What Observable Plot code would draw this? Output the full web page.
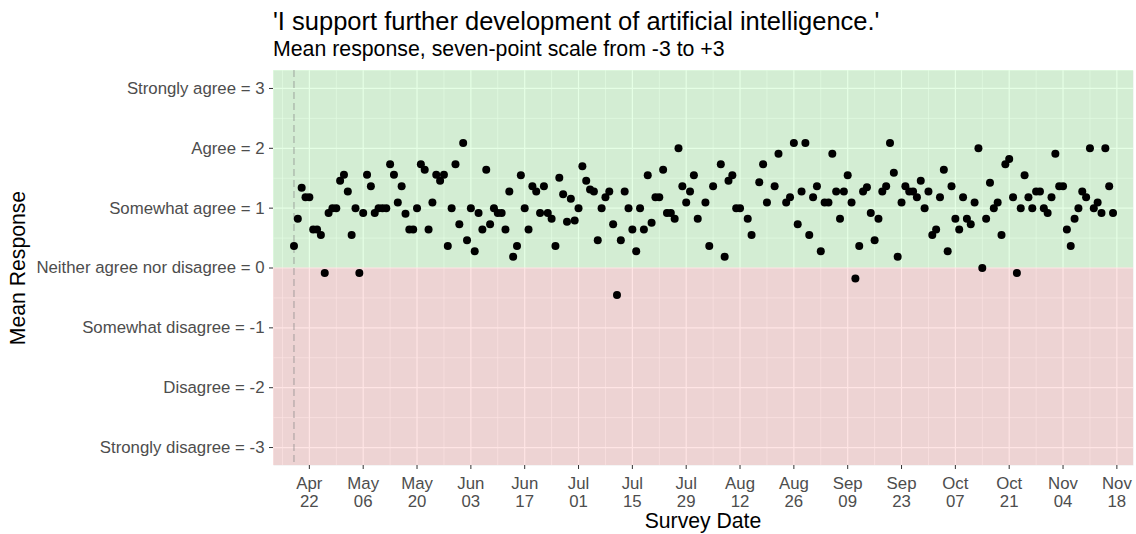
<!DOCTYPE html>
<html><head><meta charset="utf-8">
<script src="https://cdn.jsdelivr.net/npm/d3@7"></script>
<script src="https://cdn.jsdelivr.net/npm/@observablehq/plot@0.6"></script>
<style>
body{margin:0;background:#fff;font-family:"Liberation Sans",Arial,sans-serif;}
#wrap{position:relative;width:1136px;height:534px;overflow:hidden;}
.t{position:absolute;white-space:nowrap;line-height:1;color:#000;}
#title{left:273px;top:9px;font-size:25.5px;}
#subtitle{left:273px;top:39px;font-size:21.3px;}
#xlab{left:703px;top:510px;font-size:21.2px;transform:translateX(-50%);}
#ylab{left:18px;top:268px;font-size:21.2px;transform:translate(-50%,-50%) rotate(-90deg);}
#chart{position:absolute;left:0;top:0;}
#chart svg g[aria-label="y-axis tick label"] text, #chart svg g[aria-label="x-axis tick label"] text{fill:#4D4D4D;}
</style></head>
<body>
<div id="wrap">
  <div id="chart"></div>
  <div class="t" id="title">'I support further development of artificial intelligence.'</div>
  <div class="t" id="subtitle">Mean response, seven-point scale from -3 to +3</div>
  <div class="t" id="xlab">Survey Date</div>
  <div class="t" id="ylab">Mean Response</div>
</div>
<script>
// Daily mean responses starting at surveyStart; null = no survey that day
const surveyStart = "2024-04-18";
const dailyMeans = [
  0.367, 0.823, 1.34, 1.183, 1.183, 0.645, 0.645, 0.55, -0.083, 0.917,
  1.0, 1.0, 1.457, 1.557, 1.278, 0.55, 1.0, -0.083, 0.917, 1.557,
  1.367, 0.917, 1.0, 1.0, 1.0, 1.733, 1.557, 1.095, 1.367, 0.907,
  0.645, 0.645, 1.0, 1.733, 1.64, 0.645, 1.095, 1.557, 1.457, 1.557,
  0.367, 1.0, 1.733, 0.733, 2.09, 0.462, 1.0, 0.278, 0.917, 0.645,
  1.64, 0.733, 1.0, 0.917, 0.917, 0.645, 1.278, 0.19, 0.367, 1.55,
  1.0, 0.645, 1.367, 1.278, 0.917, 1.367, 0.917, 0.823, 0.367, 1.507,
  1.233, 0.773, 1.157, 0.795, 1.0, 1.70, 1.457, 1.312, 1.278, 0.462,
  1.0, 1.183, 1.278, 0.733, -0.45, 0.462, 1.278, 1.0, 0.645, 0.278,
  1.0, 0.645, 1.55, 0.757, 1.183, 1.183, 1.64, 0.917, 0.917, 0.823,
  2.0, 1.367, 1.095, 1.278, 1.55, 0.823, null, 1.095, 0.367, 1.367,
  null, 1.733, 0.19, 1.457, 1.55, 1.0, 1.0, null, 0.823, 0.55,
  null, 1.433, 1.733, 1.095, null, 1.367, 1.91, null, 1.095, 1.183,
  2.09, 0.733, 1.278, 2.09, 0.55, 1.183, 1.367, 0.278, 1.095, 1.095,
  1.91, 1.278, 0.823, 1.278, 1.55, 1.095, -0.177, 0.367, 1.278, 1.35,
  0.917, 0.462, 0.823, 1.278, 1.367, 2.09, 1.59, 0.19, 1.095, 1.367,
  1.278, 1.278, 1.183, 1.457, 1.0, 1.278, 0.55, 0.645, 1.183, 1.64,
  0.278, 1.367, 0.823, 0.645, 1.183, 0.823, 0.733, 1.095, 2.0, 0.0,
  0.823, 1.423, 1.0, 1.095, 0.55, 1.733, 1.823, 1.183, -0.083, 1.0,
  1.55, 1.183, 1.0, 1.278, 1.278, 1.0, 0.917, 1.183, 1.91, 1.367,
  1.367, 0.645, 0.367, 0.823, 1.0, 1.278, 1.183, 2.0, 1.0, 1.095,
  0.917, 2.0, 1.367, 0.917
];
const scaleValues = [-3, -2, -1, 0, 1, 2, 3];
const scaleLabels = [
  "Strongly disagree = -3", "Disagree = -2", "Somewhat disagree = -1",
  "Neither agree nor disagree = 0", "Somewhat agree = 1", "Agree = 2", "Strongly agree = 3"
];
const firstDateTick = "2024-04-22";
const dateTickCount = 16;

const DAY = 864e5;
const start = new Date(surveyStart + "T00:00:00Z");
const data = dailyMeans.map((v, i) => ({date: new Date(+start + i * DAY), value: v}))
  .filter(d => d.value !== null);
const lastDate = data[data.length - 1].date;
const pad = (lastDate - start) * 0.025;
const xDomain = [new Date(+start - pad), new Date(+lastDate + pad)];
const yDomain = [-3.3, 3.3];

const t0 = new Date(firstDateTick + "T00:00:00Z");
const majorX = d3.range(dateTickCount).map(k => new Date(+t0 + k * 14 * DAY));
const minorX = d3.range(-1, dateTickCount).map(k => new Date(+t0 + (k * 14 + 7) * DAY))
  .filter(d => d >= xDomain[0] && d <= xDomain[1]);
const minorY = d3.range(-2.5, 3, 1);

const bands = [
  {lo: 0, hi: yDomain[1], fill: "#00FF00"},
  {lo: yDomain[0], hi: 0, fill: "#FF0000"}
];

const chart = Plot.plot({
  width: 1136, height: 534,
  marginLeft: 273, marginRight: 3, marginTop: 70, marginBottom: 69,
  style: {fontFamily: "'Liberation Sans', Arial, sans-serif", fontSize: "17px", background: "white"},
  x: {type: "utc", domain: xDomain},
  y: {domain: yDomain},
  marks: [
    Plot.frame({fill: "#EBEBEB", stroke: null}),
    Plot.gridY(minorY, {stroke: "white", strokeOpacity: 1, strokeWidth: 0.6}),
    Plot.gridX(minorX, {stroke: "white", strokeOpacity: 1, strokeWidth: 0.6}),
    Plot.gridY(scaleValues, {stroke: "white", strokeOpacity: 1, strokeWidth: 1.2}),
    Plot.gridX(majorX, {stroke: "white", strokeOpacity: 1, strokeWidth: 1.2}),
    Plot.rect(bands, {x1: () => xDomain[0], x2: () => xDomain[1], y1: "lo", y2: "hi", fill: "fill", fillOpacity: 0.1}),
    Plot.ruleX([start], {stroke: "#7F7F7F", strokeOpacity: 0.5, strokeWidth: 1.3, strokeDasharray: "7,4"}),
    Plot.dot(data, {x: "date", y: "value", r: 4, fill: "black", stroke: null}),
    Plot.axisY(scaleValues, {tickFormat: d => scaleLabels[scaleValues.indexOf(d)], tickSize: 4, tickPadding: 5, stroke: "#333333", label: null, fontSize: 16.8}),
    Plot.axisX(majorX, {tickFormat: d3.utcFormat("%b\n%d"), tickSize: 4, tickPadding: 7, stroke: "#333333", label: null, fontSize: 16.8, lineHeight: 1.07})
  ]
});
document.getElementById("chart").appendChild(chart);
</script>
</body></html>
